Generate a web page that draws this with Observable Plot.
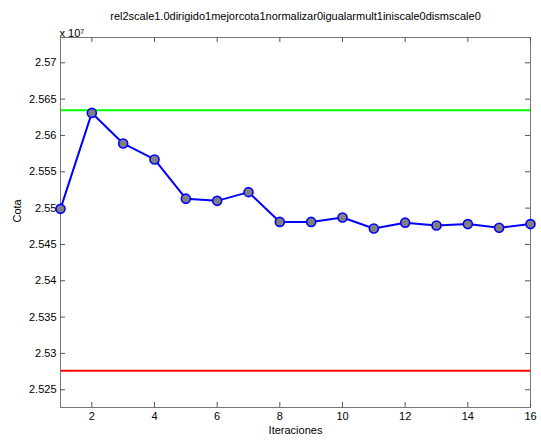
<!DOCTYPE html>
<html>
<head>
<meta charset="utf-8">
<script src="https://cdn.jsdelivr.net/npm/d3@7"></script>
<script src="https://cdn.jsdelivr.net/npm/@observablehq/plot@0.6"></script>
<style>
  html, body { margin: 0; padding: 0; background: #fff; }
</style>
</head>
<body>
<div id="chart"></div>
<script>
// Data (Cota values in units of 10^7)
const iteraciones = [1, 2, 3, 4, 5, 6, 7, 8, 9, 10, 11, 12, 13, 14, 15, 16];
const cota = [2.5499, 2.5631, 2.5589, 2.5567, 2.5513, 2.5510, 2.5522, 2.5481,
              2.5481, 2.5487, 2.5472, 2.5480, 2.5476, 2.5478, 2.5473, 2.5478];
const cotaSuperior = [2.56347];
const cotaInferior = [2.52762];
const xTicks = [2, 4, 6, 8, 10, 12, 14, 16];
const yTicks = [2.525, 2.53, 2.535, 2.54, 2.545, 2.55, 2.555, 2.56, 2.565, 2.57];
const titleText = "rel2scale1.0dirigido1mejorcota1normalizar0igualarmult1iniscale0dismscale0";
const xLabel = "Iteraciones";
const yLabel = "Cota";
const exponentText = "x 10⁷";

const data = iteraciones.map((it, i) => ({it, v: cota[i]}));

const W = 541, H = 440, ML = 60, MR = 11, MT = 37, MB = 33;
const fw = W - ML - MR, fh = H - MT - MB;
const tl = 5;

const chart = Plot.plot({
  width: W, height: H,
  marginLeft: ML, marginRight: MR, marginTop: MT, marginBottom: MB,
  style: {fontFamily: "'Liberation Sans', Arial, sans-serif", fontSize: "11px", background: "#fff", color: "#000"},
  x: {domain: [1, 16]},
  y: {domain: [2.52256, 2.57348]},
  marks: [
    Plot.ruleY(cotaSuperior, {stroke: "#00ff00", strokeWidth: 2}),
    Plot.ruleY(cotaInferior, {stroke: "#ff0000", strokeWidth: 2}),
    Plot.frame({stroke: "#777"}),
    Plot.axisX({ticks: xTicks, tickSize: 0, tickPadding: 5, label: null, tickFormat: d => String(d)}),
    Plot.axisY({ticks: yTicks, tickSize: 0, tickPadding: 4, label: null, tickFormat: d => String(+d.toFixed(3))}),
    Plot.tickX(xTicks, {x: d => d, insetTop: fh - tl, stroke: "#555"}),
    Plot.tickX(xTicks, {x: d => d, insetBottom: fh - tl, stroke: "#555"}),
    Plot.tickY(yTicks, {y: d => d, insetRight: fw - tl, stroke: "#555"}),
    Plot.tickY(yTicks, {y: d => d, insetLeft: fw - tl, stroke: "#555"}),
    Plot.line(data, {x: "it", y: "v", stroke: "#0000ff", strokeWidth: 2}),
    Plot.dot(data, {x: "it", y: "v", r: 4.5, fill: "#808080", stroke: "#0000ff", strokeWidth: 1.6}),
    Plot.text([titleText], {text: d => d, frameAnchor: "top", dy: -25, fontSize: 11}),
    Plot.text([exponentText], {text: d => d, frameAnchor: "top-left", textAnchor: "start", dy: -8, dx: -1, fontSize: 11}),
    Plot.text([xLabel], {text: d => d, frameAnchor: "bottom", dy: 26, fontSize: 11}),
    Plot.text([yLabel], {text: d => d, frameAnchor: "left", dx: -43, rotate: -90, fontSize: 11})
  ]
});
document.getElementById("chart").appendChild(chart);
</script>
</body>
</html>
